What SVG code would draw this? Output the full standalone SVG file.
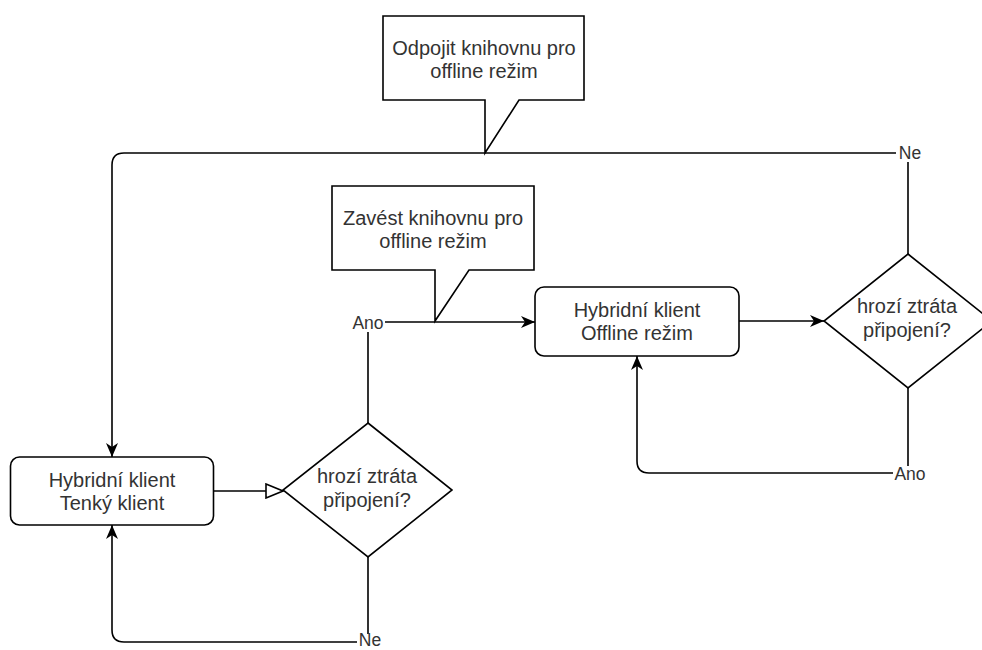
<svg xmlns="http://www.w3.org/2000/svg" width="982" height="650" viewBox="0 0 982 650">
<style>
.shape{fill:#fff;stroke:#000;stroke-width:1.6}
.edge{fill:none;stroke:#000;stroke-width:1.6}
.t{font-family:"Liberation Sans",Arial,sans-serif;font-size:20px;fill:#333;text-anchor:middle}
.lb{font-family:"Liberation Sans",Arial,sans-serif;font-size:17.5px;fill:#333;text-anchor:middle}
.lbg{fill:#fff;stroke:none}
</style>
<defs>
<marker id="arr" viewBox="0 0 14 12" refX="14" refY="6" markerWidth="14" markerHeight="12" orient="auto" markerUnits="userSpaceOnUse">
<path d="M0,0 L14,6 L0,12 L4,6 Z" fill="#000"/>
</marker>
<marker id="open" viewBox="0 0 19 16" refX="18" refY="8" markerWidth="19" markerHeight="16" orient="auto" markerUnits="userSpaceOnUse">
<path d="M1,1 L18,8 L1,15 Z" fill="#fff" stroke="#000" stroke-width="1.6"/>
</marker>
</defs>
<rect width="982" height="650" fill="#fff"/>
<g id="connectors">
<path class="edge" d="M908,254 V153 H124 Q112,153 112,165 V457" marker-end="url(#arr)"/>
<path class="edge" d="M213,491 H283" marker-end="url(#open)"/>
<path class="edge" d="M368,423 V322 H535" marker-end="url(#arr)"/>
<path class="edge" d="M368,557 V642 H124 Q112,642 112,630 V525" marker-end="url(#arr)"/>
<path class="edge" d="M739,321 H824" marker-end="url(#arr)"/>
<path class="edge" d="M908,388 V473 H649 Q637,473 637,461 V356" marker-end="url(#arr)"/>
<rect class="lbg" x="896" y="145" width="28" height="17"/>
<text class="lb" x="910" y="159">Ne</text>
<rect class="lbg" x="351" y="315" width="34" height="17"/>
<text class="lb" x="368" y="329">Ano</text>
<rect class="lbg" x="357" y="634" width="26" height="16"/>
<text class="lb" x="370" y="646">Ne</text>
<rect class="lbg" x="893" y="466" width="34" height="17"/>
<text class="lb" x="910" y="480">Ano</text>
</g>
<g id="callout-odpojit">
<path class="shape" d="M383,16 H584 V100 H519 L485,153 V100 H383 Z"/>
<text class="t" x="484" y="55">Odpojit knihovnu pro</text>
<text class="t" x="484" y="78">offline režim</text>
</g>
<g id="callout-zavest">
<path class="shape" d="M332,186 H534 V270 H469 L435,321 V270 H332 Z"/>
<text class="t" x="433" y="225">Zavést knihovnu pro</text>
<text class="t" x="433" y="248">offline režim</text>
</g>
<g id="tenky-klient">
<rect class="shape" x="10.5" y="457" width="203" height="68" rx="9"/>
<text class="t" x="112" y="487">Hybridní klient</text>
<text class="t" x="112" y="510">Tenký klient</text>
</g>
<g id="decision-1">
<path class="shape" d="M368,423 L452,490 L368,557 L283,490 Z"/>
<text class="t" x="367" y="483">hrozí ztráta</text>
<text class="t" x="367" y="507">připojení?</text>
</g>
<g id="offline-rezim">
<rect class="shape" x="535" y="287" width="204" height="69" rx="9"/>
<text class="t" x="637" y="317">Hybridní klient</text>
<text class="t" x="637" y="340">Offline režim</text>
</g>
<g id="decision-2">
<path class="shape" d="M908,254 L992,321 L908,388 L824,321 Z"/>
<text class="t" x="907" y="313">hrozí ztráta</text>
<text class="t" x="907" y="337">připojení?</text>
</g>
</svg>
